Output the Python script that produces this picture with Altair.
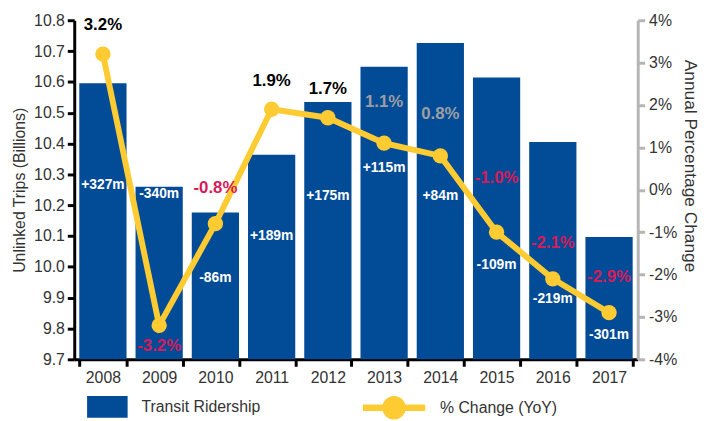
import altair as alt
import pandas as pd

# ---- data ----
years = ["2008", "2009", "2010", "2011", "2012", "2013", "2014", "2015", "2016", "2017"]
ridership_billions = [10.596, 10.26, 10.176, 10.364, 10.535, 10.649, 10.726, 10.614, 10.405, 10.097]
pct_change = [3.2, -3.2, -0.8, 1.9, 1.7, 1.1, 0.8, -1.0, -2.1, -2.9]
delta_millions = [327, -340, -86, 189, 175, 115, 84, -109, -219, -301]
delta_label_at = [10.264, 10.235, 9.963, 10.10, 10.23, 10.32, 10.23, 10.005, 9.896, 9.78]
left_ticks = [9.7, 9.8, 9.9, 10.0, 10.1, 10.2, 10.3, 10.4, 10.5, 10.6, 10.7, 10.8]
right_ticks = [-4, -3, -2, -1, 0, 1, 2, 3, 4]
bar_series = "Transit Ridership"
line_series = "% Change (YoY)"

BLUE = "#024C97"
YELLOW = "#FECB33"
CRIMSON = "#D61A5A"
GRAY_LBL = "#9C9EA3"
TXT = "#333333"
FONT = "Liberation Sans"

df = pd.DataFrame({
    "year": years,
    "ridership": ridership_billions,
    "pct": pct_change,
    "delta": delta_millions,
    "delta_at": delta_label_at,
})
df["bar_series"] = bar_series
df["line_series"] = line_series

base = alt.Chart(df)

x = alt.X(
    "year:N",
    scale=alt.Scale(paddingInner=0.16, paddingOuter=0.09),
    axis=alt.Axis(
        title=None, labelAngle=0, tickBand="extent",
        domainColor="black", domainWidth=3,
        tickColor="black", tickWidth=3, tickSize=7,
        labelFontSize=16, labelColor=TXT, labelPadding=3, labelFont=FONT,
    ),
)

yl_scale = alt.Scale(domain=[9.7, 10.8], zero=False, nice=False)
yl_axis = alt.Axis(
    title="Unlinked Trips (Billions)", values=left_ticks, format=".1f",
    grid=False, labelOverlap=False, domainColor="black", domainWidth=3,
    tickColor="black", tickWidth=3, tickSize=7,
    labelFontSize=16, labelColor=TXT, labelPadding=3, labelFont=FONT,
    titleFontSize=16, titleFontWeight="normal", titleColor=TXT,
    titleFont=FONT, titlePadding=6,
)

bars = base.mark_bar().encode(
    x=x,
    y=alt.Y("ridership:Q", scale=yl_scale, axis=yl_axis),
    y2=alt.datum(9.7),
    color=alt.Color(
        "bar_series:N",
        scale=alt.Scale(domain=[bar_series], range=[BLUE]),
        legend=alt.Legend(
            title=None, orient="none", legendX=13, legendY=370.5,
            symbolType="M-1,-0.537H1V0.537H-1Z", symbolSize=1681,
            symbolStrokeWidth=0, symbolOpacity=1,
            labelFontSize=16, labelColor=TXT, labelFont=FONT,
            labelOffset=14, padding=0,
        ),
    ),
)

bar_text = base.mark_text(
    color="white", fontWeight="bold", fontSize=14, baseline="middle", font=FONT
).transform_calculate(
    lbl="(datum.delta > 0 ? '+' : '') + datum.delta + 'm'"
).encode(
    x=x,
    y=alt.Y("delta_at:Q", scale=yl_scale, axis=yl_axis),
    text="lbl:N",
)

left_group = alt.layer(bars, bar_text)

yr_scale = alt.Scale(domain=[-4, 4], nice=False)
yr_axis = alt.Axis(
    orient="right", title="Annual Percentage Change", values=right_ticks,
    labelExpr="datum.value + '%'", grid=False, labelOverlap=False,
    domainColor="#B5B5B5", domainWidth=3,
    tickColor="#B5B5B5", tickWidth=3, tickSize=7,
    labelFontSize=16, labelColor=TXT, labelPadding=4, labelFont=FONT,
    titleFontSize=17.5, titleFontWeight="normal", titleColor=TXT,
    titleFont=FONT, titleAngle=90, titlePadding=4, titleY=147,
)
yr = alt.Y("pct:Q", scale=yr_scale, axis=yr_axis)

line = base.mark_line(color=YELLOW, strokeWidth=6).encode(x=x, y=yr)

points = base.mark_circle(size=240, opacity=1).encode(
    x=x,
    y=yr,
    color=alt.Color(
        "line_series:N",
        scale=alt.Scale(domain=[line_series], range=[YELLOW]),
        legend=alt.Legend(
            title=None, orient="none", legendX=292, legendY=360.5,
            symbolType="M-1,-0.105H1V0.105H-1Z M-0.38,0A0.38,0.38 0 1,1 0.38,0A0.38,0.38 0 1,1 -0.38,0Z",
            symbolSize=3969, symbolStrokeWidth=0, symbolOpacity=1,
            labelFontSize=16, labelColor=TXT, labelFont=FONT,
            labelOffset=15, padding=0,
        ),
    ),
)

pct_base = base.transform_calculate(
    lbl="replace(format(datum.pct, '.1f'), '\u2212', '-') + '%'"
)

def pct_labels(filter_expr, color, dy):
    return pct_base.transform_filter(filter_expr).mark_text(
        color=color, fontWeight="bold", fontSize=17, baseline="middle",
        font=FONT, dy=dy,
    ).encode(x=x, y=yr, text="lbl:N")

lbl_black = pct_labels("datum.pct >= 1.5", "black", -29)
lbl_gray = pct_labels("datum.pct > 0 && datum.pct < 1.5", GRAY_LBL, -42)
lbl_red_above = pct_labels(
    "datum.pct < 0 && datum.year != '2009' && datum.year != '2015'", CRIMSON, -36)
lbl_red_2015 = pct_labels("datum.year == '2015'", CRIMSON, -55)
lbl_red_below = pct_labels("datum.year == '2009'", CRIMSON, 21)

right_group = alt.layer(line, points, lbl_black, lbl_gray, lbl_red_above,
                        lbl_red_2015, lbl_red_below)

chart = alt.layer(left_group, right_group).resolve_scale(
    y="independent", color="independent"
).properties(
    width=570, height=343,
    autosize=alt.AutoSizeParams(type="none"),
    padding={"left": 67, "top": 10, "right": 64, "bottom": 60},
).configure_view(strokeWidth=0).configure_axis(labelOverlap=False)

chart.save("out.html", embed_options={"renderer": "svg", "actions": False})
